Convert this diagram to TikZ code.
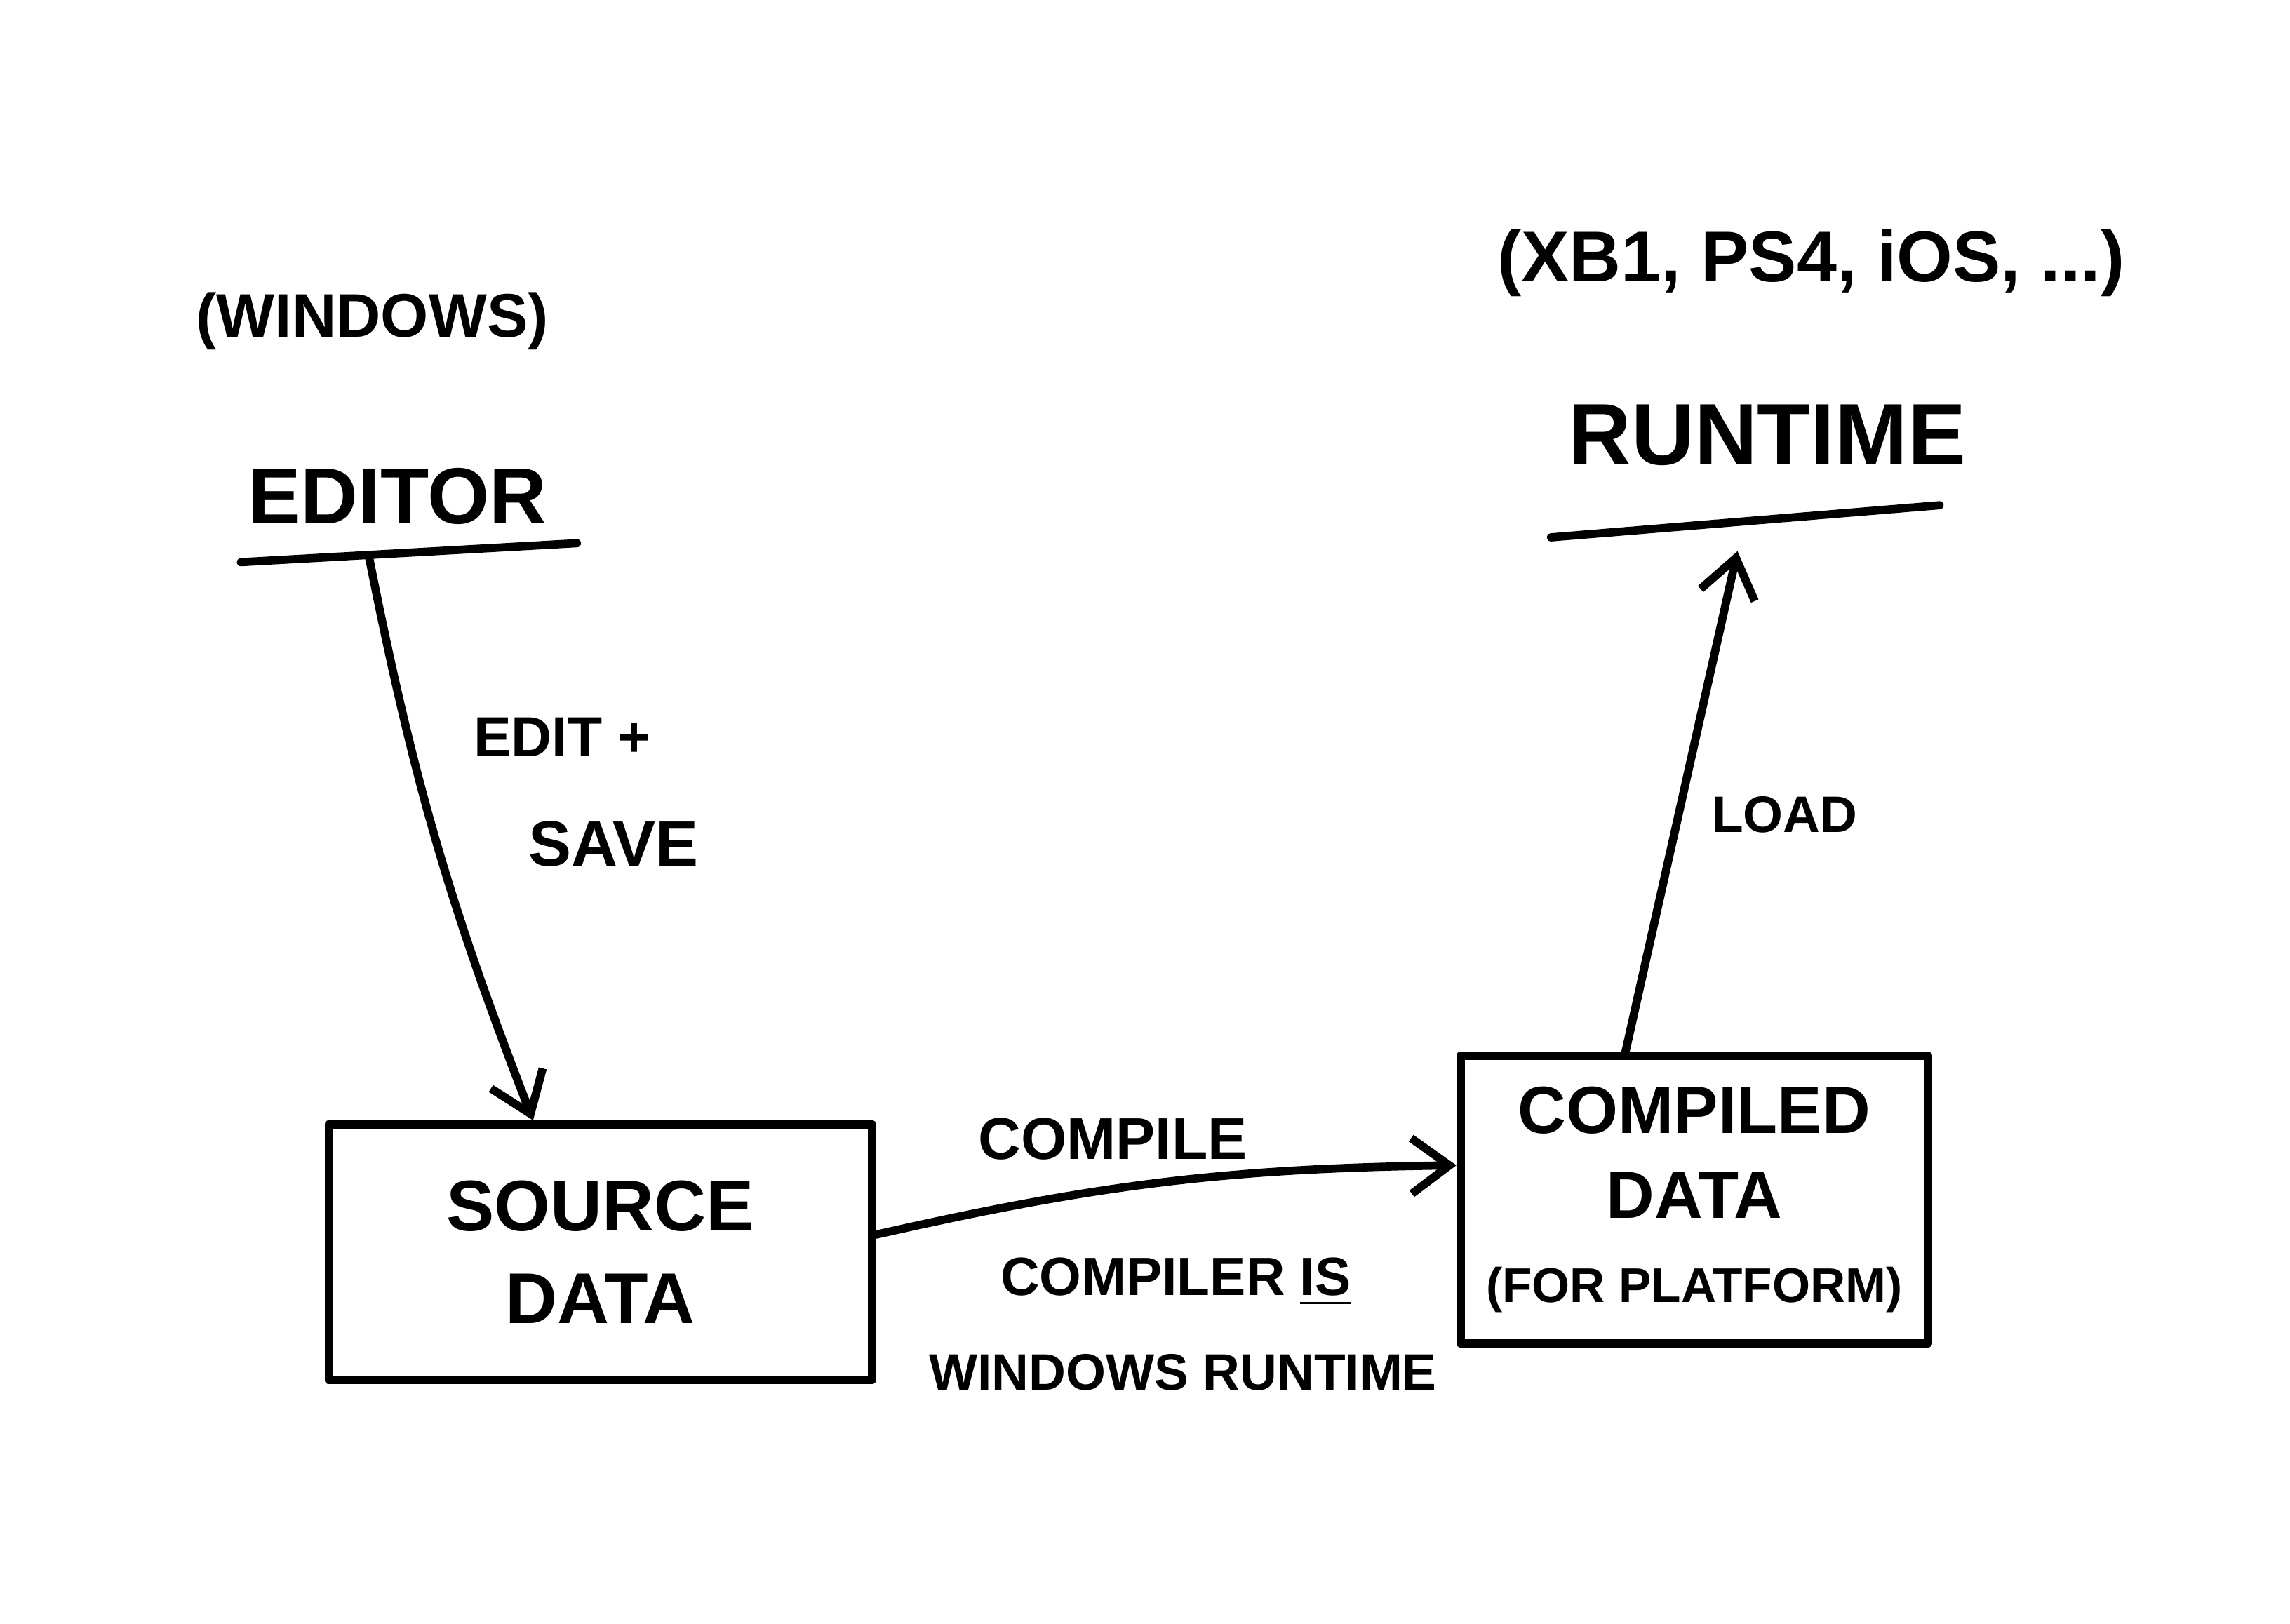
\documentclass[tikz,border=0pt]{standalone}
\usepackage{fontspec}
\setmainfont{Liberation Sans}
\usepackage{tikz}
\usetikzlibrary{calc,arrows.meta}
\def\hand#1#2{\fontsize{#1}{#2}\selectfont\bfseries}
\tikzset{
	pen/.style={line width=1.6pt, line cap=round, line join=round},
	flow/.style={pen, -{Straight Barb[length=2.6mm, width=3.8mm]}},
	databox/.style={pen, draw, align=center, inner sep=0pt},
}

\begin{document}
\begin{tikzpicture}
			%%%%% START %%%%%
			
			\useasboundingbox (0, 0) rectangle (15.68, 11.12);
			
			\node (win) at (2.55, 8.92) {\hand{12}{14}(WINDOWS)};
			\node (editor) at (2.72, 7.72) {\hand{15.5}{18}EDITOR};
			\coordinate (ed-a) at (1.65, 7.27);
			\coordinate (ed-b) at (3.95, 7.40);
			\draw[pen] (ed-a) -- (ed-b);
			
			\node (plat) at (12.40, 9.32) {\hand{14}{17}(XB1, PS4, iOS, ...)};
			\node (runtime) at (12.10, 8.14) {\hand{17}{20}RUNTIME};
			\coordinate (rt-a) at (10.62, 7.44);
			\coordinate (rt-b) at (13.28, 7.66);
			\draw[pen] (rt-a) -- (rt-b);
			
			\node[databox, font=\hand{14}{18}, minimum width=3.72cm, minimum height=1.75cm] (src) at (4.11, 2.545) {SOURCE\\DATA};
			\node[databox, font=\hand{13}{16.5}, minimum width=3.2cm, minimum height=1.97cm] (cmp) at (11.60, 2.905) {COMPILED\\DATA\\{\hand{9.5}{16.5}(FOR PLATFORM)}};
			
			\draw[flow] ($(ed-a)!0.38!(ed-b)$) to[bend right=5] ([xshift=-0.46cm]src.north);
			\node (lab-edit) at (3.85, 6.07) {\hand{11}{13}EDIT +};
			\node (lab-save) at (4.20, 5.34) {\hand{12.5}{15}SAVE};
			
			\draw[flow] ([yshift=0.12cm]src.east) to[bend left=6] ([yshift=0.235cm]cmp.west);
			\node (lab-comp) at (7.62, 3.32) {\hand{11.5}{14}COMPILE};
			\node (lab-is) at (8.05, 2.34) {\hand{10.5}{13}COMPILER \underline{IS}};
			\node (lab-win) at (8.10, 1.72) {\hand{10}{12}WINDOWS RUNTIME};
			
			\draw[flow] ([xshift=-0.47cm]cmp.north) -- ($(rt-a)!0.48!(rt-b)+(0,-0.2)$);
			\node (lab-load) at (12.22, 5.54) {\hand{10}{12}LOAD};
			
			%%%%% END %%%%%
\end{tikzpicture}
\end{document}
